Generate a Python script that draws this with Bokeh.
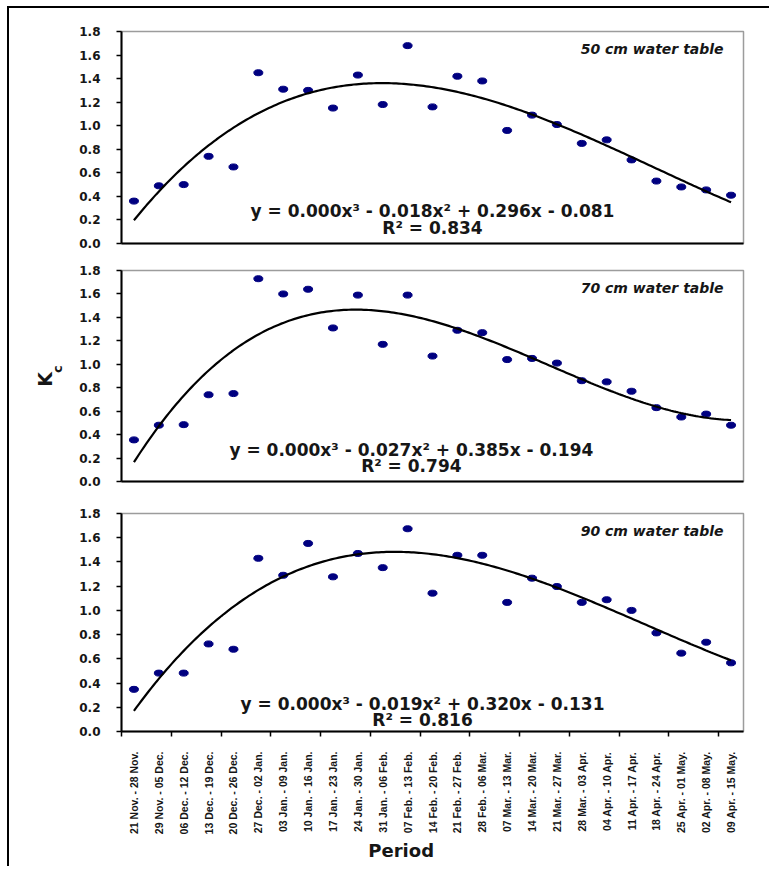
import math
import numpy as np
from bokeh.plotting import figure
from bokeh.layouts import column
from bokeh.models import Range1d, FixedTicker, Label, LinearAxis
from bokeh.embed import file_html
from bokeh.resources import INLINE

# ---------------- data ----------------
periods = [
    "21 Nov. - 28 Nov.", "29 Nov. - 05 Dec.", "06 Dec. - 12 Dec.", "13 Dec. - 19 Dec.",
    "20 Dec. - 26 Dec.", "27 Dec. - 02 Jan.", "03 Jan. - 09 Jan.", "10 Jan. - 16 Jan.",
    "17 Jan. - 23 Jan.", "24 Jan. - 30 Jan.", "31 Jan. - 06 Feb.", "07 Feb. - 13 Feb.",
    "14 Feb. - 20 Feb.", "21 Feb. - 27 Feb.", "28 Feb. - 06 Mar.", "07 Mar. - 13 Mar.",
    "14 Mar. - 20 Mar.", "21 Mar. - 27 Mar.", "28 Mar. - 03 Apr.", "04 Apr. - 10 Apr.",
    "11 Apr. - 17 Apr.", "18 Apr. - 24 Apr.", "25 Apr. - 01 May.", "02 Apr. - 08 May.",
    "09 Apr. - 15 May.",
]
kc_50 = [0.36, 0.49, 0.50, 0.74, 0.65, 1.45, 1.31, 1.30, 1.15, 1.43, 1.18, 1.68, 1.16,
         1.42, 1.38, 0.96, 1.09, 1.01, 0.85, 0.88, 0.71, 0.53, 0.48, 0.455, 0.41]
kc_70 = [0.355, 0.48, 0.485, 0.74, 0.75, 1.73, 1.60, 1.64, 1.31, 1.59, 1.17, 1.59, 1.07,
         1.29, 1.27, 1.04, 1.05, 1.01, 0.86, 0.85, 0.77, 0.63, 0.55, 0.575, 0.48]
kc_90 = [0.348, 0.482, 0.482, 0.723, 0.679, 1.43, 1.29, 1.553, 1.277, 1.47, 1.353, 1.674,
         1.142, 1.455, 1.455, 1.066, 1.266, 1.197, 1.066, 1.088, 1.00, 0.814, 0.647,
         0.737, 0.567]
# cubic trend-line coefficients (x^3, x^2, x, const) as printed on the chart;
# the printed "0.000" cubic term is given here with more digits
trend_50 = [0.000274, -0.018, 0.296, -0.081]
trend_70 = [0.000510, -0.027, 0.385, -0.194]
trend_90 = [0.000294, -0.019, 0.320, -0.131]
y_ticks = [0.0, 0.2, 0.4, 0.6, 0.8, 1.0, 1.2, 1.4, 1.6, 1.8]
panel_titles = ["50 cm water table", "70 cm water table", "90 cm water table"]
equations = [
    "y = 0.000x\u00b3 - 0.018x\u00b2 + 0.296x - 0.081",
    "y = 0.000x\u00b3 - 0.027x\u00b2 + 0.385x - 0.194",
    "y = 0.000x\u00b3 - 0.019x\u00b2 + 0.320x - 0.131",
]
r2_texts = ["R\u00b2 = 0.834", "R\u00b2 = 0.794", "R\u00b2 = 0.816"]
x_title = "Period"
y_title_main = "K"
y_title_sub = "c"

n = len(periods)
xs = list(range(1, n + 1))

BOLD_FONT = "DejaVu Sans"
TXT = "#161616"
NB = "\u00a0"


def make_panel(vals, coefs, title, eq, r2, top, frame_h, bottom, eq_x, eq_y, r2_y, last):
    p = figure(frame_width=622, frame_height=frame_h,
               min_border_left=112, min_border_right=26,
               min_border_top=top, min_border_bottom=bottom,
               x_range=Range1d(0.5, n + 0.5), y_range=Range1d(0, 1.8),
               output_backend="svg", toolbar_location=None,
               background_fill_color="white", border_fill_color="white")
    p.xgrid.visible = False
    p.ygrid.visible = False
    p.outline_line_color = "#9c9c9c"
    p.outline_line_width = 1.5

    # y axis
    ya = p.yaxis[0]
    ya.ticker = FixedTicker(ticks=y_ticks)
    ya.major_label_overrides = {t: f"{t:.1f}" for t in y_ticks}
    ya.axis_line_color = "black"
    ya.axis_line_width = 2
    ya.major_tick_line_color = "black"
    ya.major_tick_line_width = 1.5
    ya.major_tick_out = 5
    ya.major_tick_in = 0
    ya.minor_tick_line_color = None
    ya.major_label_standoff = 16
    ya.major_label_text_font = BOLD_FONT
    ya.major_label_text_font_style = "bold"
    ya.major_label_text_font_size = "12px"
    ya.major_label_text_color = TXT

    xa = p.xaxis[0]
    xa.axis_line_color = "black"
    xa.axis_line_width = 2
    if last:
        xa.ticker = FixedTicker(ticks=xs, minor_ticks=list(np.arange(0.5, n, 2)))
        xa.major_label_overrides = {i + 1: lab for i, lab in enumerate(periods)}
        xa.major_tick_line_color = None
        xa.major_tick_out = 0
        xa.major_tick_in = 0
        xa.minor_tick_line_color = "black"
        xa.minor_tick_line_width = 1.5
        xa.minor_tick_out = 5
        xa.minor_tick_in = 0
        xa.major_label_orientation = math.pi / 2
        xa.major_label_standoff = 15
        xa.major_label_text_font = "Liberation Sans"
        xa.major_label_text_font_style = "bold"
        xa.major_label_text_font_size = "10.5px"
        xa.major_label_text_color = TXT
    else:
        xa.ticker = FixedTicker(ticks=[])
        xa.major_tick_line_color = None
        xa.minor_tick_line_color = None
        xa.major_label_text_font_size = "0px"
        xa.major_tick_out = 0
        xa.major_label_standoff = 0

    # data points
    p.ellipse(x=xs, y=vals, width=9, height=6, width_units="screen",
              height_units="screen", fill_color="#000080", line_color="#000080")

    # cubic trend line of the printed equation
    xf = np.linspace(1, n, 240)
    p.line(xf, np.polyval(coefs, xf), line_color="black", line_width=2.2)

    p.add_layout(Label(x=n - 0.3, y=1.8, y_offset=-17, text=title,
                       text_align="right", text_baseline="middle",
                       text_font=BOLD_FONT, text_font_style="bold italic",
                       text_font_size="14px", text_color=TXT))
    p.add_layout(Label(x=eq_x, y=eq_y, text=eq, text_align="center",
                       text_baseline="middle", text_font=BOLD_FONT,
                       text_font_style="bold", text_font_size="17px", text_color=TXT))
    p.add_layout(Label(x=eq_x, y=r2_y, text=r2, text_align="center",
                       text_baseline="middle", text_font=BOLD_FONT,
                       text_font_style="bold", text_font_size="17px", text_color=TXT))
    return p


def title_axis(text, size, standoff):
    ax = LinearAxis(ticker=FixedTicker(ticks=[]), axis_line_color=None,
                    major_tick_line_color=None, minor_tick_line_color=None,
                    major_tick_out=0, major_tick_in=0, minor_tick_out=0, minor_tick_in=0,
                    major_label_standoff=0, major_label_text_font_size="0px",
                    axis_label=text, axis_label_standoff=standoff,
                    axis_label_text_font=BOLD_FONT, axis_label_text_font_style="bold",
                    axis_label_text_font_size=size, axis_label_text_color=TXT)
    return ax


p1 = make_panel(kc_50, trend_50, panel_titles[0], equations[0], r2_texts[0], 23, 212, 12,
                13.0, 0.277, 0.13, False)
p2 = make_panel(kc_70, trend_70, panel_titles[1], equations[1], r2_texts[1], 15, 211, 12,
                12.15, 0.27, 0.13, False)
p3 = make_panel(kc_90, trend_90, panel_titles[2], equations[2], r2_texts[2], 20, 218, 135,
                12.6, 0.223, 0.099, True)

# y axis title K_c (subscript c nearer the axis and raised), middle panel
p2.add_layout(title_axis(NB * 3 + y_title_sub, "13px", 12), "left")
p2.add_layout(title_axis(y_title_main + NB, "19px", -9), "left")

# x axis title (shifted left of the frame centre as in the source)
xa3 = p3.xaxis[0]
xa3.axis_label = x_title + NB * 10
xa3.axis_label_standoff = 3
xa3.axis_label_text_font = BOLD_FONT
xa3.axis_label_text_font_style = "bold"
xa3.axis_label_text_font_size = "18px"
xa3.axis_label_text_color = TXT

layout = column(p1, p2, p3, spacing=0,
                styles={"border-left": "2px solid black", "border-top": "2px solid black",
                        "margin-left": "7px", "margin-top": "6px"})

open("out.html", "w").write(file_html(layout, INLINE))
